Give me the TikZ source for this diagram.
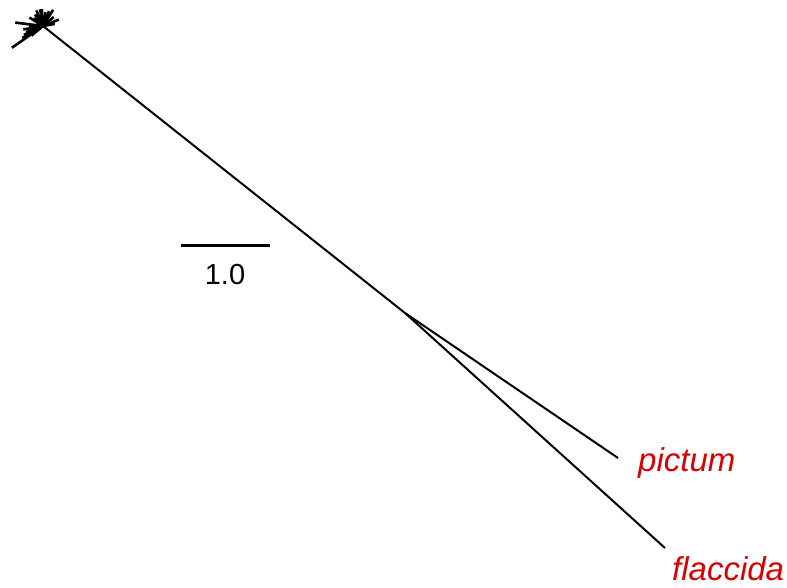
\documentclass[tikz,border=0pt]{standalone}
\usepackage{fontspec}
\setmainfont{Liberation Sans}
\begin{document}
\begin{tikzpicture}[x=1pt,y=-1pt,
  branch/.style={line width=2pt,black},
  star/.style={line width=2.6pt,black},
  taxon/.style={font=\itshape\fontsize{33}{36}\selectfont,text=red!85!black,inner sep=0pt,anchor=west},
  scalelbl/.style={font=\fontsize{29}{32}\selectfont,inner sep=0pt}]
\useasboundingbox (0,0) rectangle (787,587);
\coordinate (hub) at (43,26);
\coordinate (split) at (405,313);
\coordinate (pend) at (618,458);
\coordinate (fend) at (665,548);
% star cluster
\foreach \a/\l in {187/28, 145/38, 150/24, 155/21, 160/18, 165/15, 140/15, 170/20, 180/14, -148/16, -140/12, -125/14, -113/17, -100/17, -94/17, -80/14, -68/16, -58/19, -40/14, -22/17, -10/12}{
  \draw[star] (hub) -- ++(\a:\l);
}
\draw[branch] (hub) -- (split);
\draw[branch] (split) -- (pend);
\draw[branch] (split) -- (fend);
\node[taxon] (p) at (638,463) {pictum};
\node[taxon] (f) at (672,569) {flaccida};
% scale bar
\coordinate (s1) at (181,245);
\coordinate (s2) at (270,245);
\draw[line width=3pt] (s1) -- (s2);
\node[scalelbl] (sl) at (225,275) {1.0};
\end{tikzpicture}
\end{document}
